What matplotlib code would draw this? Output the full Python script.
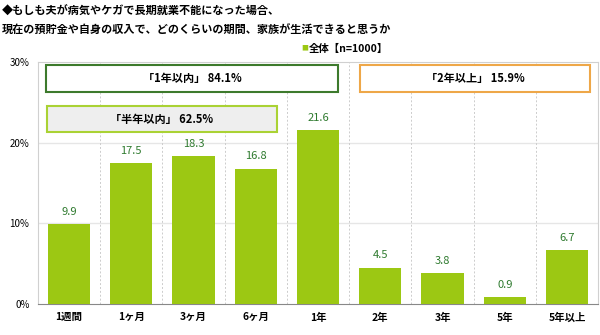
import matplotlib
matplotlib.use('Agg')
import matplotlib.pyplot as plt
from matplotlib.patches import Rectangle

plt.rcParams['font.family'] = ['Noto Sans CJK JP', 'DejaVu Sans']

# data
categories = ['1週間', '1ヶ月', '3ヶ月', '6ヶ月', '1年', '2年', '3年', '5年', '5年以上']
values = [9.9, 17.5, 18.3, 16.8, 21.6, 4.5, 3.8, 0.9, 6.7]
yticks = [0, 10, 20, 30]
ytick_labels = ['0%', '10%', '20%', '30%']
title_lines = ['◆もしも夫が病気やケガで長期就業不能になった場合、',
               '現在の預貯金や自身の収入で、どのくらいの期間、家族が生活できると思うか']
legend_label = '全体【n=1000】'
summary_1y = '「1年以内」 84.1%'
summary_2y = '「2年以上」 15.9%'
summary_half = '「半年以内」 62.5%'

bar_color = '#9cc813'
label_color = '#2e7a2e'

fig = plt.figure(figsize=(6, 3.35), dpi=100)
ax = fig.add_axes([0.063, 0.0925, 0.934, 0.722])

x = list(range(len(categories)))
ax.bar(x, values, width=0.68, color=bar_color, zorder=3)
for xi, v in zip(x, values):
    ax.text(xi, v + 0.9, f'{v:.1f}', ha='center', va='bottom', fontsize=8,
            color=label_color, zorder=4)

ax.set_xlim(-0.5, len(categories) - 0.5)
ax.set_ylim(0, 30)
ax.set_yticks(yticks)
ax.set_yticklabels(ytick_labels, fontsize=7)
ax.set_xticks(x)
ax.set_xticklabels(categories, fontsize=7.5, fontweight='bold')
ax.tick_params(axis='y', length=0, pad=6)
ax.tick_params(axis='x', length=0, pad=6)

# grid
for yv in yticks[1:-1]:
    ax.axhline(yv, color='#e6e6e6', lw=1, zorder=1)
for xb in range(len(categories) - 1):
    ax.axvline(xb + 0.5, color='#cccccc', lw=0.7, ls=(0, (2, 2)), zorder=1)

for side in ['top', 'right']:
    ax.spines[side].set_color('#d0d0d0')
ax.spines['left'].set_color('#d0d0d0')
ax.spines['bottom'].set_color('#888888')

# summary boxes
boxes = [
    (-0.37, 26.3, 4.69, 3.3, 'white', '#3d7a2c', summary_1y),
    (4.68, 26.3, 3.69, 3.3, 'white', '#eea748', summary_2y),
    (-0.355, 21.3, 3.69, 3.2, '#eeeeee', '#aad234', summary_half),
]
for bx, by, bw, bh, fc, ec, txt in boxes:
    ax.add_patch(Rectangle((bx, by), bw, bh, facecolor=fc, edgecolor=ec,
                           lw=1.5, zorder=5))
    ax.text(bx + bw / 2, by + bh / 2, txt, ha='center', va='center',
            fontsize=8, fontweight='bold', zorder=6)

# title
fig.text(0.003, 0.965, title_lines[0], fontsize=8, fontweight='bold', va='center')
fig.text(0.003, 0.908, title_lines[1], fontsize=8, fontweight='bold', va='center')

# legend
fig.text(0.513, 0.855, '■', fontsize=5, color=bar_color, ha='right', va='center')
fig.text(0.515, 0.855, legend_label, fontsize=7.5, fontweight='bold', va='center')

fig.savefig('out.png', dpi=100)
